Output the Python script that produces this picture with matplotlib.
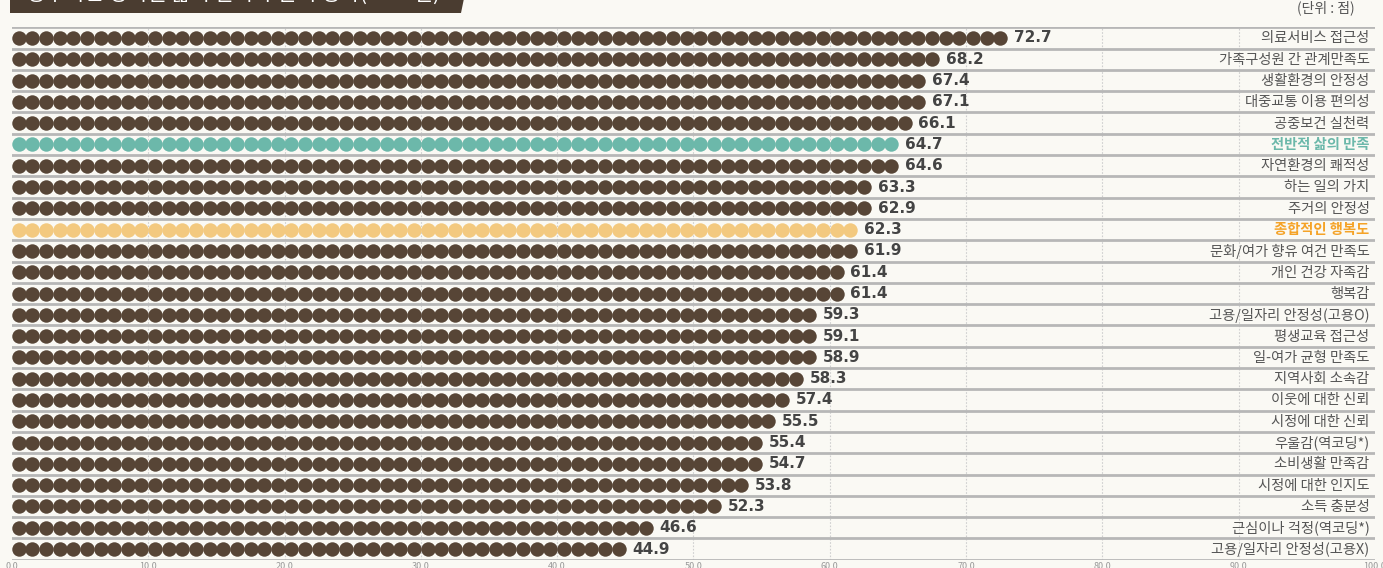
import numpy as np
import matplotlib
matplotlib.use("Agg")
import matplotlib.pyplot as plt
from matplotlib.patches import Polygon

plt.rcParams['font.family'] = ['Noto Sans CJK KR', 'DejaVu Sans']

# data, top to bottom
labels = ['의료서비스 접근성', '가족구성원 간 관계만족도', '생활환경의 안정성', '대중교통 이용 편의성',
          '공중보건 실천력', '전반적 삶의 만족', '자연환경의 쾌적성', '하는 일의 가치',
          '주거의 안정성', '종합적인 행복도', '문화/여가 향유 여건 만족도', '개인 건강 자족감',
          '행복감', '고용/일자리 안정성(고용O)', '평생교육 접근성', '일-여가 균형 만족도',
          '지역사회 소속감', '이웃에 대한 신뢰', '시정에 대한 신뢰', '우울감(역코딩*)',
          '소비생활 만족감', '시정에 대한 인지도', '소득 충분성', '근심이나 걱정(역코딩*)',
          '고용/일자리 안정성(고용X)']
values = [72.7, 68.2, 67.4, 67.1, 66.1, 64.7, 64.6, 63.3, 62.9, 62.3, 61.9, 61.4, 61.4,
          59.3, 59.1, 58.9, 58.3, 57.4, 55.5, 55.4, 54.7, 53.8, 52.3, 46.6, 44.9]
highlight = {'전반적 삶의 만족': ('#6cb8aa', '#6cb8aa'),
             '종합적인 행복도': ('#f3c97f', '#f5a327')}
ticks = np.arange(0, 101, 10)

bg = '#faf9f4'
brown = '#574536'

fig = plt.figure(figsize=(13.83, 5.68), dpi=100, facecolor=bg)
ax = fig.add_axes([12/1383, (568-559.7)/568, 1363/1383, (559.7-27.3)/568])
ax.set_facecolor(bg)
ax.set_xlim(0, 100)
ax.set_ylim(len(labels) - 0.5, -0.5)

for x in ticks[1:-1]:
    ax.axvline(x, color='#cfcfcf', lw=0.8, ls=(0, (1.5, 1.5)), zorder=0)
for i in range(len(labels) + 1):
    ax.axhline(i - 0.5, color='#b7b7b7', lw=2, zorder=1)

for i, (lab, v) in enumerate(zip(labels, values)):
    n = int(np.floor(v + 0.5))
    dot_c, txt_c = highlight.get(lab, (brown, '#555555'))
    xs = np.arange(n) + 0.5
    ax.plot(xs, np.full(n, i), 'o', ms=10.4, mfc=dot_c, mec='none', zorder=3)
    ax.text(n + 0.5, i, f'{v:.1f}', ha='left', va='center', fontsize=11,
            fontweight='bold', color='#444444', family=['DejaVu Sans'], zorder=4)
    bold = 'bold' if lab in highlight else 'normal'
    ax.text(99.6, i + 0.02, lab, ha='right', va='center', fontsize=10.3,
            color=txt_c, fontweight=bold, zorder=4)

ax.set_xticks(ticks)
ax.set_xticklabels([f'{t:.1f}' for t in ticks], fontsize=6.5, color='#999999')
ax.tick_params(axis='x', length=0, pad=2)
ax.set_yticks([])
for s in ax.spines.values():
    s.set_visible(False)

# title banner, clipped at top of image
banner = Polygon([[10/1383, 1.02], [466/1383, 1.02], [461/1383, 1 - 13/568], [10/1383, 1 - 13/568]],
                 closed=True, transform=fig.transFigure, facecolor='#4a3c30', edgecolor='none')
fig.patches.append(banner)
fig.text(26/1383, 1 + 6/568, '청주시민 영역별 삶의 만족 주관적 평가(2023년)', color='white',
         fontsize=15.2, ha='left', va='center')
fig.text(1355/1383, 1 - 8/568, '(단위 : 점)', color='#555555', fontsize=10,
         ha='right', va='center')

fig.savefig('out.png', dpi=100, facecolor=bg)
